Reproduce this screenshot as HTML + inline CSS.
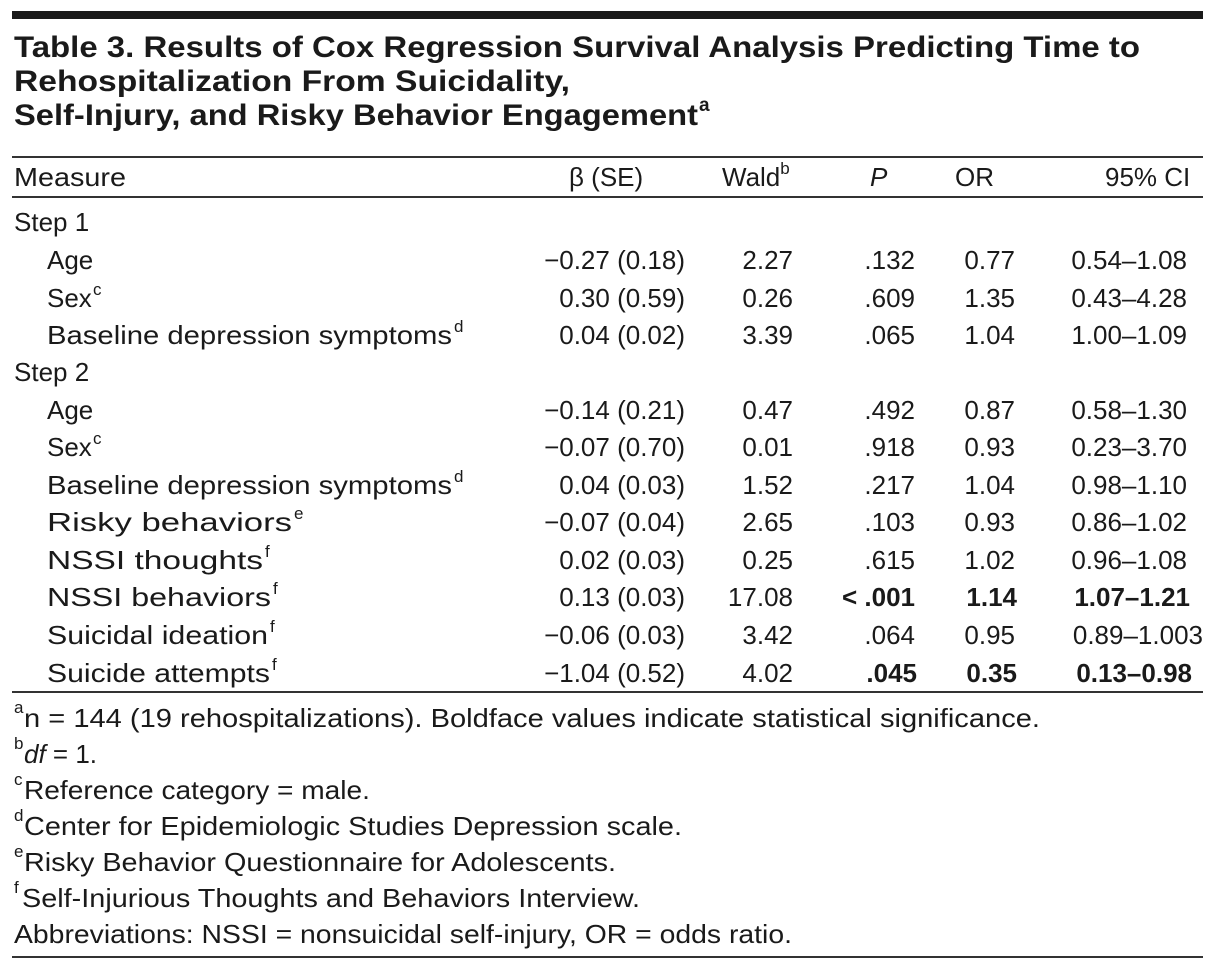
<!DOCTYPE html>
<html><head><meta charset="utf-8"><style>
html,body{margin:0;padding:0;background:#fff;}
svg{display:block}
text{font-family:"Liberation Sans",sans-serif;fill:#1a1a1a;font-size:26px}
.t{font-weight:bold;font-size:30px}
.b{font-weight:bold}
.e{text-anchor:end}
.s{font-size:17px}
</style></head><body>
<svg width="1218" height="972" viewBox="0 0 1218 972" xmlns="http://www.w3.org/2000/svg">
<rect x="12" y="11" width="1191" height="8" fill="#1a1a1a"/>
<text class="t" x="14" y="57" textLength="1126" lengthAdjust="spacingAndGlyphs">Table 3. Results of Cox Regression Survival Analysis Predicting Time to</text>
<text class="t" x="14" y="91" textLength="556" lengthAdjust="spacingAndGlyphs">Rehospitalization From Suicidality,</text>
<text class="t" x="14" y="125" textLength="684" lengthAdjust="spacingAndGlyphs">Self-Injury, and Risky Behavior Engagement</text>
<text class="t" x="699" y="111" style="font-size:19px">a</text>
<rect x="12" y="156" width="1191" height="2" fill="#333"/>
<text x="14" y="186" textLength="112" lengthAdjust="spacingAndGlyphs">Measure</text>
<text x="569" y="186">β (SE)</text>
<text x="722" y="186">Wald<tspan class="s" dy="-12">b</tspan></text>
<text x="870" y="186" font-style="italic">P</text>
<text x="955" y="186">OR</text>
<text x="1105" y="186">95% CI</text>
<rect x="12" y="196" width="1191" height="2" fill="#333"/>

<g>
<text x="14" y="231">Step 1</text>
<text x="47" y="269">Age</text>
<text x="47" y="307">Sex</text><text class="s" x="93" y="295">c</text>
<text x="47" y="344" textLength="405" lengthAdjust="spacingAndGlyphs">Baseline depression symptoms</text><text class="s" x="454" y="332">d</text>
<text x="14" y="381">Step 2</text>
<text x="47" y="419">Age</text>
<text x="47" y="456">Sex</text><text class="s" x="93" y="444">c</text>
<text x="47" y="494" textLength="405" lengthAdjust="spacingAndGlyphs">Baseline depression symptoms</text><text class="s" x="454" y="482">d</text>
<text x="47" y="531" textLength="245" lengthAdjust="spacingAndGlyphs">Risky behaviors</text><text class="s" x="294" y="519">e</text>
<text x="47" y="569" textLength="216" lengthAdjust="spacingAndGlyphs">NSSI thoughts</text><text class="s" x="265" y="557">f</text>
<text x="47" y="606" textLength="224" lengthAdjust="spacingAndGlyphs">NSSI behaviors</text><text class="s" x="273" y="594">f</text>
<text x="47" y="644" textLength="221" lengthAdjust="spacingAndGlyphs">Suicidal ideation</text><text class="s" x="270" y="632">f</text>
<text x="47" y="682" textLength="223" lengthAdjust="spacingAndGlyphs">Suicide attempts</text><text class="s" x="272" y="670">f</text>
</g>

<g>
<text class="e" x="685" y="269">−0.27 (0.18)</text><text class="e" x="793" y="269">2.27</text><text class="e" x="915" y="269">.132</text><text class="e" x="1015" y="269">0.77</text><text class="e" x="1187" y="269">0.54–1.08</text>
<text class="e" x="685" y="307">0.30 (0.59)</text><text class="e" x="793" y="307">0.26</text><text class="e" x="915" y="307">.609</text><text class="e" x="1015" y="307">1.35</text><text class="e" x="1187" y="307">0.43–4.28</text>
<text class="e" x="685" y="344">0.04 (0.02)</text><text class="e" x="793" y="344">3.39</text><text class="e" x="915" y="344">.065</text><text class="e" x="1015" y="344">1.04</text><text class="e" x="1187" y="344">1.00–1.09</text>
<text class="e" x="685" y="419">−0.14 (0.21)</text><text class="e" x="793" y="419">0.47</text><text class="e" x="915" y="419">.492</text><text class="e" x="1015" y="419">0.87</text><text class="e" x="1187" y="419">0.58–1.30</text>
<text class="e" x="685" y="456">−0.07 (0.70)</text><text class="e" x="793" y="456">0.01</text><text class="e" x="915" y="456">.918</text><text class="e" x="1015" y="456">0.93</text><text class="e" x="1187" y="456">0.23–3.70</text>
<text class="e" x="685" y="494">0.04 (0.03)</text><text class="e" x="793" y="494">1.52</text><text class="e" x="915" y="494">.217</text><text class="e" x="1015" y="494">1.04</text><text class="e" x="1187" y="494">0.98–1.10</text>
<text class="e" x="685" y="531">−0.07 (0.04)</text><text class="e" x="793" y="531">2.65</text><text class="e" x="915" y="531">.103</text><text class="e" x="1015" y="531">0.93</text><text class="e" x="1187" y="531">0.86–1.02</text>
<text class="e" x="685" y="569">0.02 (0.03)</text><text class="e" x="793" y="569">0.25</text><text class="e" x="915" y="569">.615</text><text class="e" x="1015" y="569">1.02</text><text class="e" x="1187" y="569">0.96–1.08</text>
<text class="e" x="685" y="606">0.13 (0.03)</text><text class="e" x="793" y="606">17.08</text><text class="e b" x="915" y="606">&lt; .001</text><text class="e b" x="1017" y="606">1.14</text><text class="e b" x="1190" y="606">1.07–1.21</text>
<text class="e" x="685" y="644">−0.06 (0.03)</text><text class="e" x="793" y="644">3.42</text><text class="e" x="915" y="644">.064</text><text class="e" x="1015" y="644">0.95</text><text class="e" x="1203" y="644">0.89–1.003</text>
<text class="e" x="685" y="682">−1.04 (0.52)</text><text class="e" x="793" y="682">4.02</text><text class="e b" x="917" y="682">.045</text><text class="e b" x="1017" y="682">0.35</text><text class="e b" x="1192" y="682">0.13–0.98</text>
</g>
<rect x="12" y="691" width="1191" height="2" fill="#333"/>

<text class="s" x="14" y="713">a</text><text x="24" y="727" textLength="1016" lengthAdjust="spacingAndGlyphs">n = 144 (19 rehospitalizations). Boldface values indicate statistical significance.</text>
<text class="s" x="14" y="749">b</text><text x="24" y="763"><tspan font-style="italic">df</tspan> = 1.</text>
<text class="s" x="14" y="785">c</text><text x="24" y="799" textLength="346" lengthAdjust="spacingAndGlyphs">Reference category = male.</text>
<text class="s" x="14" y="821">d</text><text x="24" y="835" textLength="658" lengthAdjust="spacingAndGlyphs">Center for Epidemiologic Studies Depression scale.</text>
<text class="s" x="14" y="857">e</text><text x="24" y="871" textLength="592" lengthAdjust="spacingAndGlyphs">Risky Behavior Questionnaire for Adolescents.</text>
<text class="s" x="14" y="893">f</text><text x="22" y="907" textLength="618" lengthAdjust="spacingAndGlyphs">Self-Injurious Thoughts and Behaviors Interview.</text>
<text x="14" y="943" textLength="778" lengthAdjust="spacingAndGlyphs">Abbreviations: NSSI = nonsuicidal self-injury, OR = odds ratio.</text>
<rect x="12" y="956" width="1191" height="2" fill="#333"/>
</svg>
</body></html>
